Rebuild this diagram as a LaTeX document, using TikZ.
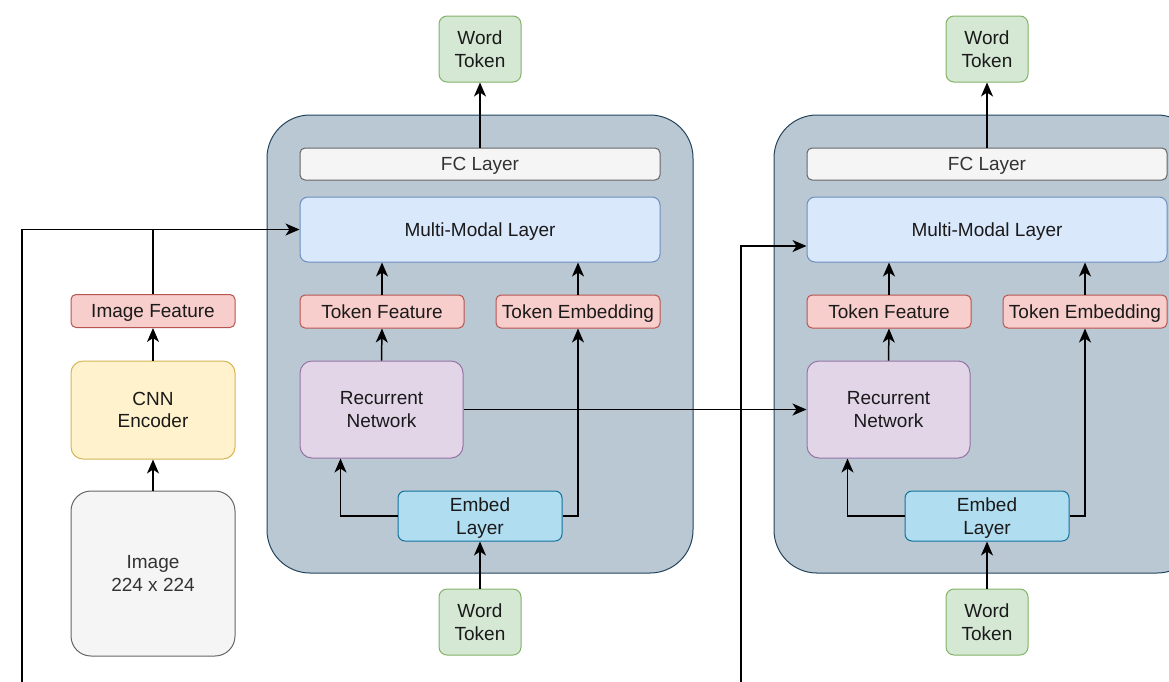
\documentclass[tikz,border=0pt]{standalone}
\usepackage{fontspec}
\setmainfont{Liberation Sans}
\usetikzlibrary{arrows.meta,calc}

\definecolor{grnF}{HTML}{D5E8D4}\definecolor{grnD}{HTML}{82B366}
\definecolor{redF}{HTML}{F8CECC}\definecolor{redD}{HTML}{B85450}
\definecolor{yelF}{HTML}{FFF2CC}\definecolor{yelD}{HTML}{D6B656}
\definecolor{gryF}{HTML}{F5F5F5}\definecolor{gryD}{HTML}{666666}
\definecolor{bluF}{HTML}{DAE8FC}\definecolor{bluD}{HTML}{6C8EBF}
\definecolor{purF}{HTML}{E1D5E7}\definecolor{purD}{HTML}{9673A6}
\definecolor{cynF}{HTML}{B1DDF0}\definecolor{cynD}{HTML}{10739E}
\definecolor{conF}{HTML}{BAC8D3}\definecolor{conD}{HTML}{23445D}
\definecolor{txt}{HTML}{1A1A1A}\definecolor{txtg}{HTML}{333333}

\tikzset{
  box/.style={draw, line width=1pt, inner sep=0pt, align=center, text=txt,
    text depth=0pt, font=\fontsize{19}{22.5}\selectfont},
  wordbox/.style={box, fill=grnF, draw=grnD, rounded corners=8pt,
    minimum width=82pt, minimum height=66pt},
  featbox/.style={box, fill=redF, draw=redD, rounded corners=5pt,
    minimum width=164pt, minimum height=33pt},
  fcbox/.style={box, fill=gryF, draw=gryD, text=txtg, rounded corners=5pt,
    minimum width=360pt, minimum height=32pt},
  mmbox/.style={box, fill=bluF, draw=bluD, rounded corners=8pt,
    minimum width=360pt, minimum height=65pt},
  rnnbox/.style={box, fill=purF, draw=purD, rounded corners=12pt,
    minimum width=163pt, minimum height=97pt},
  embbox/.style={box, fill=cynF, draw=cynD, rounded corners=7pt,
    minimum width=164pt, minimum height=50pt},
  cnnbox/.style={box, fill=yelF, draw=yelD, rounded corners=12pt,
    minimum width=164pt, minimum height=98pt},
  imgbox/.style={box, fill=gryF, draw=gryD, text=txtg, rounded corners=20pt,
    minimum width=164pt, minimum height=165pt},
  container/.style={fill=conF, draw=conD, line width=1pt, rounded corners=43pt},
  arr/.style={line width=1.5pt, draw=black,
    -{Stealth[length=14pt,width=12pt,inset=4pt]}},
  wire/.style={line width=1.5pt, draw=black},
}

\begin{document}
\begin{tikzpicture}[x=1pt,y=-1pt]
\clip (0,0) rectangle (1169,681);
\fill[white] (0,0) rectangle (1169,681);

% image branch
\node[featbox] (imgfeat) at (153,311) {Image Feature};
\node[cnnbox]  (cnn)     at (153,410) {CNN\\Encoder};
\node[imgbox]  (image)   at (153,573.5) {Image\\224 x 224};

% two decoder steps
\foreach \i/\ox in {1/0, 2/507} {
  \begin{scope}[xshift=\ox]
    \draw[container] (267,115) rectangle (693,573);
    \node[fcbox]   (fc\i)  at (480,164)   {FC Layer};
    \node[mmbox]   (mm\i)  at (480,229.5) {Multi-Modal Layer};
    \node[featbox] (tf\i)  at (382,311.5) {Token Feature};
    \node[featbox] (te\i)  at (578,311.5) {Token Embedding};
    \node[rnnbox]  (rn\i)  at (381.5,409.5) {Recurrent\\Network};
    \node[embbox]  (el\i)  at (480,516)   {Embed\\Layer};
    \node[wordbox] (wb\i)  at (480,622)   {Word\\Token};
    \node[wordbox] (wt\i)  at (480,49)    {Word\\Token};
  \end{scope}
  \draw[arr] (wb\i.north) -- (el\i.south);
  \draw[arr] (el\i.west) -| ($(rn\i.south west)+(41,0)$);
  \draw[arr] (el\i.east) -| (te\i.south);
  \draw[arr] (rn\i.north) -- (tf\i.south);
  \draw[arr] (tf\i.north) -- (tf\i.north |- mm\i.south);
  \draw[arr] (te\i.north) -- (te\i.north |- mm\i.south);
  \draw[arr] (fc\i.north) -- (wt\i.south);
}

% hidden state passed on
\draw[arr] (rn1.east) -- (rn2.west);

% image path
\draw[arr] (image.north) -- (cnn.south);
\draw[arr] (cnn.north) -- (imgfeat.south);
\coordinate (lb) at (22,690);
\coordinate (jn) at (imgfeat.north |- mm1.west);
\draw[arr] (lb) |- (mm1.west);
\draw[wire] (imgfeat.north) -- (jn);

\coordinate (rb) at (741,690);
\draw[arr] (rb) |- ($(mm2.west)+(0,16.5)$);
\end{tikzpicture}
\end{document}
